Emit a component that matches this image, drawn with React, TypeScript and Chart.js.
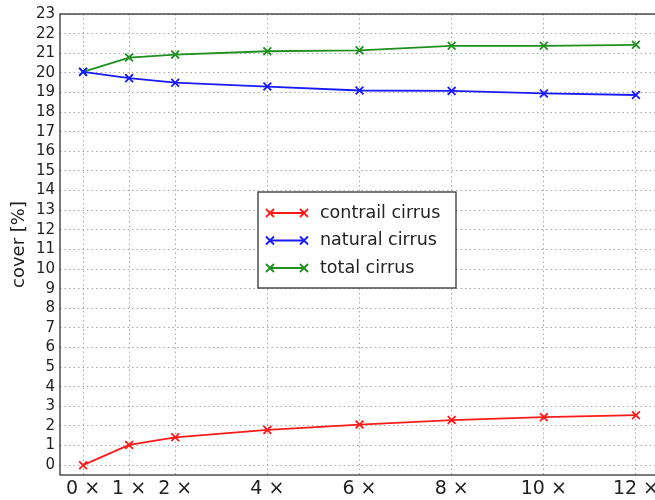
import React, { useEffect, useRef } from "react";
import { Chart, registerables } from "chart.js";
Chart.register(...registerables);

const multipliers = [0, 1, 2, 4, 6, 8, 10, 12];
const contrailCirrus = [0, 1.03, 1.42, 1.8, 2.07, 2.3, 2.45, 2.55];
const naturalCirrus = [20.05, 19.73, 19.5, 19.3, 19.1, 19.08, 18.95, 18.87];
const totalCirrus = [20.05, 20.78, 20.93, 21.1, 21.15, 21.38, 21.38, 21.43];
const yTicks = Array.from({ length: 24 }, (_, i) => i);
const seriesLabels = ["contrail cirrus", "natural cirrus", "total cirrus"];
const seriesColors = ["#ff1a1a", "#1a1aff", "#1f8f1f"];

const FONT = "'DejaVu Sans', sans-serif";

const boxPlugin = {
  id: "boxAndLegend",
  afterDraw(chart: any) {
    const { ctx, chartArea } = chart;
    ctx.save();
    ctx.strokeStyle = "#222";
    ctx.lineWidth = 1.2;
    ctx.strokeRect(chartArea.left, chartArea.top, chartArea.right - chartArea.left, chartArea.bottom - chartArea.top);
    // legend box
    const x0 = 258, y0 = 192, w = 198, h = 96;
    ctx.fillStyle = "#ffffff";
    ctx.fillRect(x0, y0, w, h);
    ctx.strokeStyle = "#333";
    ctx.lineWidth = 1.3;
    ctx.strokeRect(x0, y0, w, h);
    chart.data.datasets.forEach((ds: any, i: number) => {
      const y = y0 + 21 + i * 27.5;
      ctx.strokeStyle = ds.borderColor;
      ctx.lineWidth = 1.8;
      ctx.beginPath();
      ctx.moveTo(270, y);
      ctx.lineTo(304, y);
      ctx.stroke();
      [270, 304].forEach((px) => {
        const r = 4;
        ctx.beginPath();
        ctx.moveTo(px - r, y - r);
        ctx.lineTo(px + r, y + r);
        ctx.moveTo(px - r, y + r);
        ctx.lineTo(px + r, y - r);
        ctx.stroke();
      });
      ctx.fillStyle = "#222";
      ctx.font = `17.5px ${FONT}`;
      ctx.textBaseline = "middle";
      ctx.textAlign = "left";
      ctx.fillText(ds.label, 320, y);
    });
    ctx.restore();
  },
};

export default function App() {
  const ref = useRef<HTMLCanvasElement>(null);
  useEffect(() => {
    const datasets = [contrailCirrus, naturalCirrus, totalCirrus].map((arr, i) => ({
      label: seriesLabels[i],
      data: multipliers.map((m, j) => ({ x: m, y: arr[j] })),
      borderColor: seriesColors[i],
      backgroundColor: seriesColors[i],
      borderWidth: 1.8,
      pointStyle: "crossRot" as const,
      pointRadius: 5.5,
      pointBorderWidth: 1.8,
      tension: 0,
    }));
    const chart = new Chart(ref.current!, {
      type: "line",
      data: { datasets },
      plugins: [boxPlugin],
      options: {
        animation: false,
        responsive: false,
        devicePixelRatio: 1,
        layout: { padding: { top: 10, right: 11, left: 0, bottom: 0 } },
        plugins: { legend: { display: false }, tooltip: { enabled: false } },
        scales: {
          x: {
            type: "linear",
            min: -0.5,
            max: 12.5,
            afterBuildTicks: (s: any) => {
              s.ticks = multipliers.map((v) => ({ value: v }));
            },
            afterFit: (s: any) => {
              s.height = 25;
            },
            ticks: {
              callback: (v: any) => `${v} ×`,
              font: { family: FONT, size: 19 },
              color: "#222",
              padding: 3,
              maxRotation: 0,
              autoSkip: false,
            },
            grid: { color: "#a8a8a8", drawTicks: false },
            border: { display: false, dash: [1.5, 3] },
          },
          y: {
            type: "linear",
            min: -0.5,
            max: 23,
            afterBuildTicks: (s: any) => {
              s.ticks = yTicks.map((v) => ({ value: v }));
            },
            afterFit: (s: any) => {
              s.width = 60;
            },
            ticks: {
              font: { family: FONT, size: 15 },
              color: "#222",
              padding: 5,
              autoSkip: false,
            },
            title: {
              display: true,
              text: "cover [%]",
              font: { family: FONT, size: 18 },
              color: "#222",
              padding: { top: 9, bottom: 0 },
            },
            grid: { color: "#a8a8a8", drawTicks: false },
            border: { display: false, dash: [1.5, 3] },
          },
        },
      },
    });
    return () => chart.destroy();
  }, []);
  return (
    <div style={{ position: "fixed", left: 0, top: 0, width: 670, height: 500, background: "#fff" }}>
      <canvas ref={ref} width={670} height={500} style={{ width: 670, height: 500 }} />
    </div>
  );
}
